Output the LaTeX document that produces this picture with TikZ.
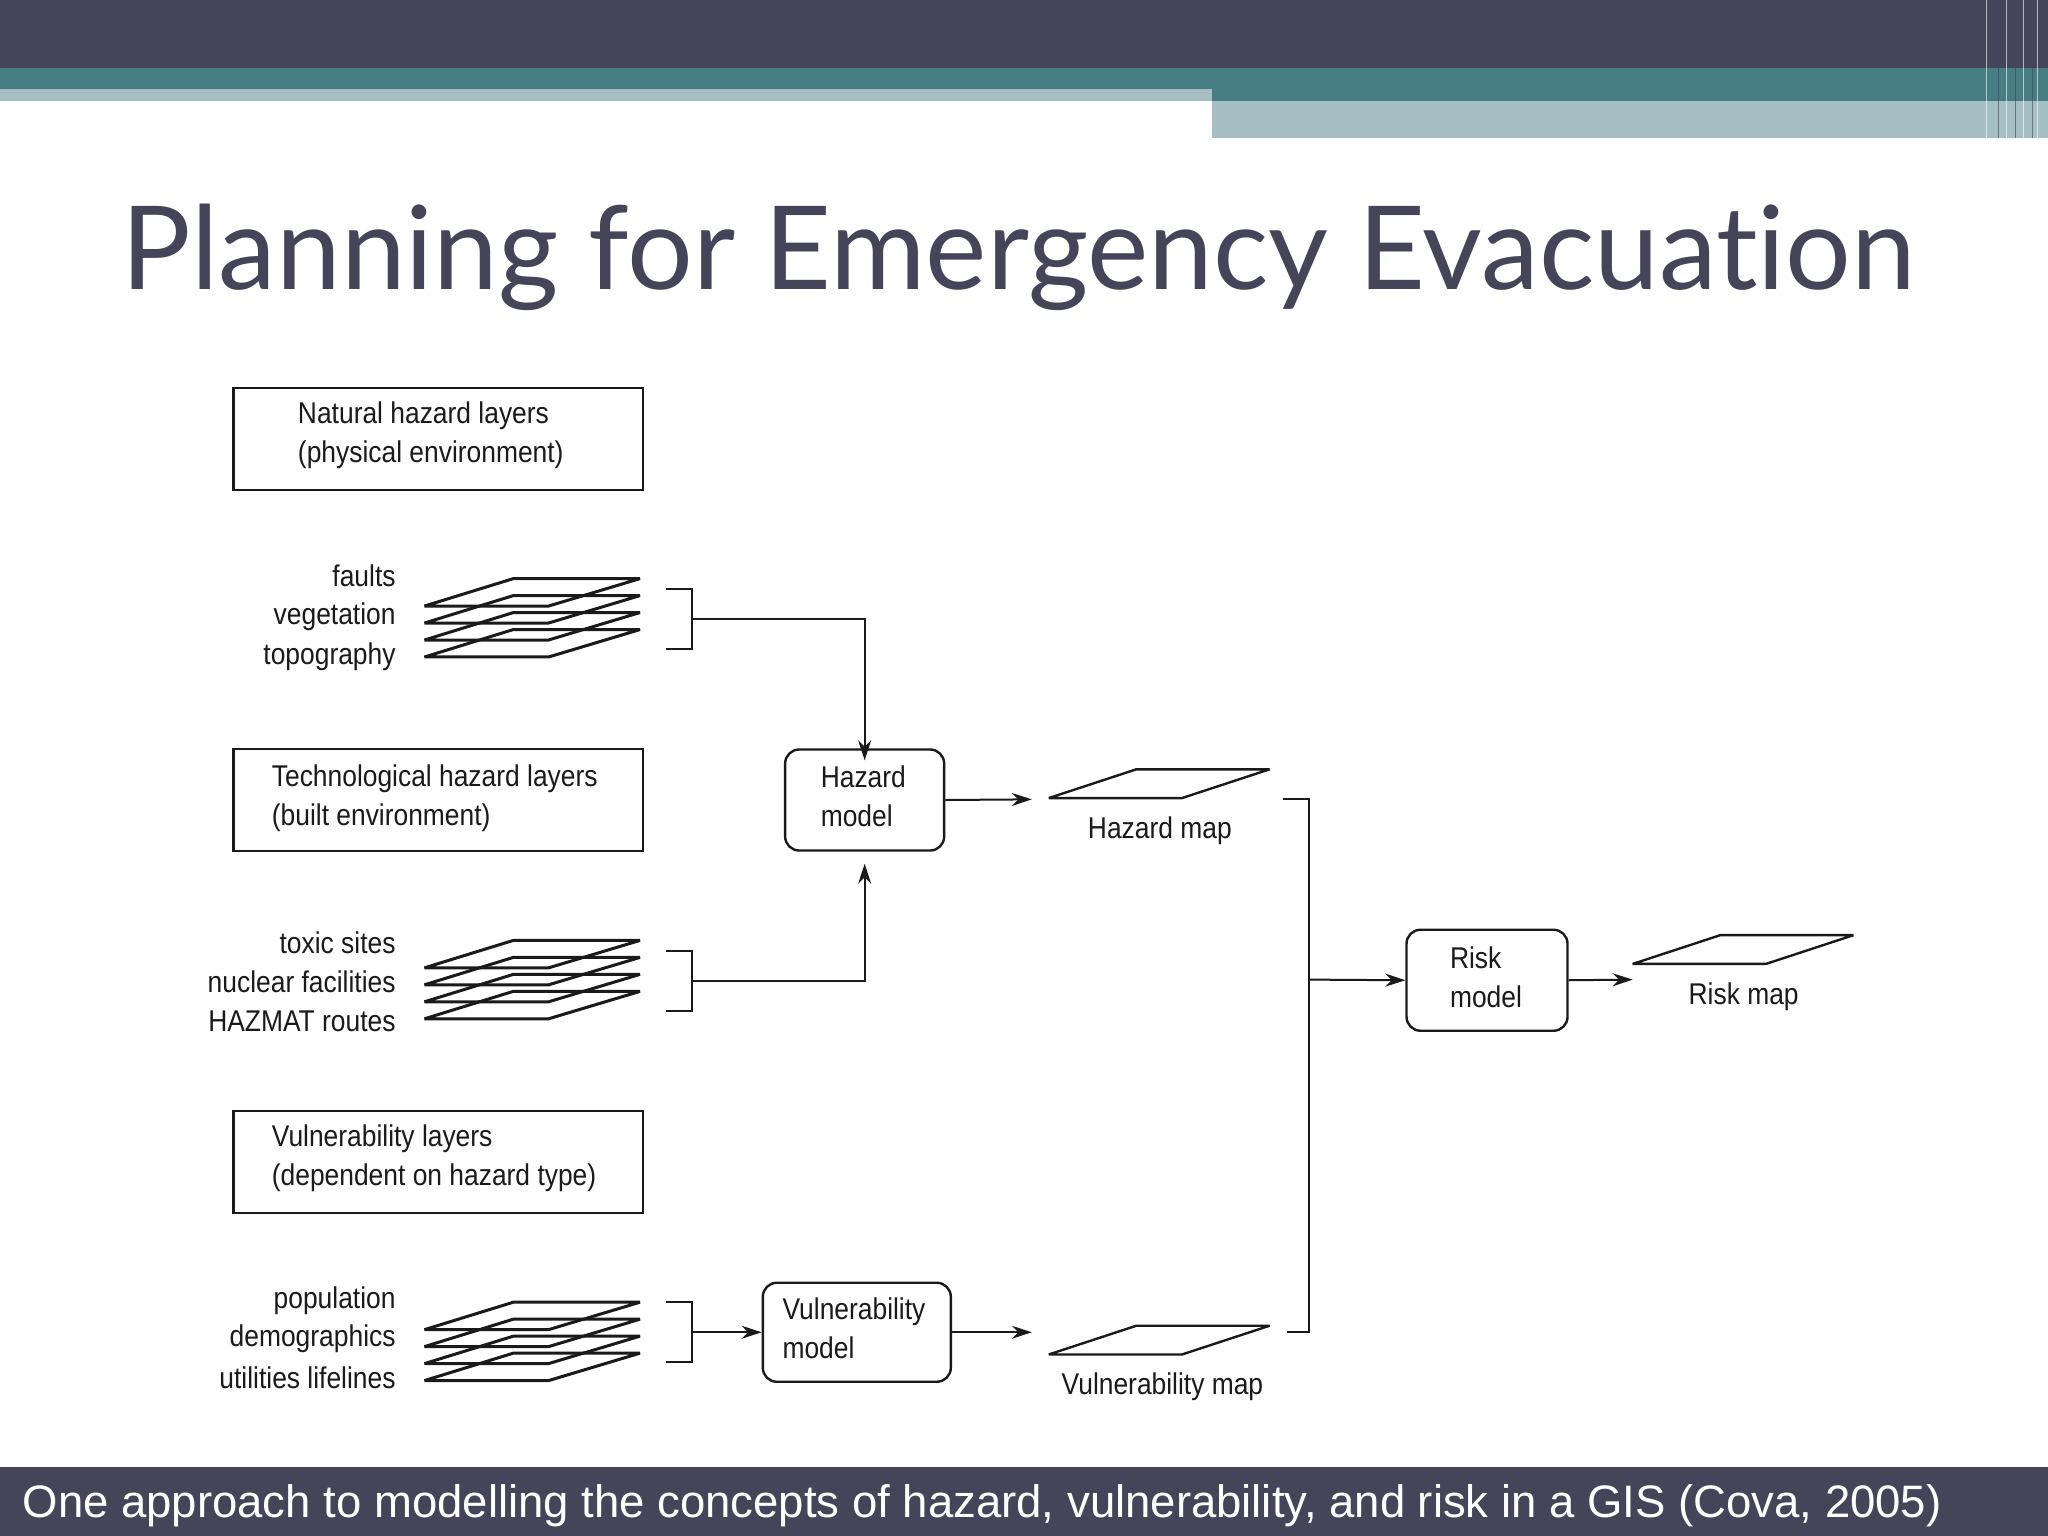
\documentclass[tikz,border=0pt]{standalone}
\usepackage{fontspec}
\setmainfont{Liberation Sans}
\newfontfamily\titlefont[Ligatures={NoCommon,NoRare}]{Lato}
\newfontfamily\dfont[FakeStretch=0.88]{Liberation Sans}
\usetikzlibrary{arrows.meta}
\definecolor{barDark}{HTML}{454458}
\definecolor{barTeal}{HTML}{467E84}
\definecolor{barLight}{HTML}{A6BFC4}
\definecolor{inkc}{HTML}{1A1A1A}
\tikzset{
  bx/.style={draw=inkc,line width=2.4pt,minimum width=409pt,minimum height=102pt,inner sep=0pt},
  model/.style={draw=inkc,line width=2.4pt,rounded corners=14pt,inner sep=0pt},
  dtxt/.style={font=\dfont\fontsize{30}{39}\selectfont,text=inkc,inner sep=0pt},
  conn/.style={draw=inkc,line width=2pt},
  arr/.style={conn,-{Stealth[length=20pt,width=13pt]}},
  lay/.style={draw=inkc,line width=3pt,line join=bevel},
}
\newcommand\stk[2]{%
  \foreach \k in {0,1,2,3}{%
    \draw[lay] (#1+2,#2+\k*13+21) -- (#1+97,#2+\k*13+21) -- (#1+167,#2+\k*13) -- (#1+70,#2+\k*13) -- cycle;}}
\newcommand\pmap[2]{%
  \draw[lay,line width=2.4pt] (#1,#2+22) -- (#1+102,#2+22) -- (#1+169,#2) -- (#1+67,#2) -- cycle;}
\begin{document}
\begin{tikzpicture}[x=1.306pt,y=-1.306pt]
\useasboundingbox (0,0) rectangle (1568,1176);
\fill[white] (0,0) rectangle (1568,1176);
% top bars
\fill[barDark] (0,0) rectangle (1568,52);
\fill[barTeal] (0,52) rectangle (1568,68);
\fill[barTeal] (928,68) rectangle (1568,77);
\fill[barLight] (0,68) rectangle (928,77);
\fill[barLight] (928,77) rectangle (1568,106);
\foreach \xx/\cc in {1521/white,1530/barDark,1536/white,1543/barDark,1549/white,1556/barDark,1560/white}
  \draw[\cc,line width=1.2pt,opacity=0.6] (\xx,0) -- (\xx,106);
% title
\node[font=\titlefont\fontsize{116}{128}\selectfont,text=barDark] (title) at (780,197) {Planning for Emergency Evacuation};
% bottom band
\fill[barDark] (0,1123) rectangle (1568,1176);
\node[font=\fontsize{45.5}{50}\selectfont,text=white] (cap) at (752,1153) {One approach to modelling the concepts of hazard, vulnerability, and risk in a GIS (Cova, 2005)};
% boxes
\node[bx] (b1) at (335.5,336) {};
\node[dtxt,anchor=west,align=left] (b1t) at (228,333) {Natural hazard layers\\(physical environment)};
\node[bx] (b2) at (335.5,612.5) {};
\node[dtxt,anchor=west,align=left] (b2t) at (208,611) {Technological hazard layers\\(built environment)};
\node[bx] (b3) at (335.5,889.5) {};
\node[dtxt,anchor=west,align=left] (b3t) at (208,887) {Vulnerability layers\\(dependent on hazard type)};
% stack labels
\node[dtxt,anchor=east] (l1) at (303,441) {faults};
\node[dtxt,anchor=east] (l2) at (303,472) {vegetation};
\node[dtxt,anchor=east] (l3) at (303,503) {topography};
\node[dtxt,anchor=east] (l4) at (303,722) {toxic sites};
\node[dtxt,anchor=east] (l5) at (303,752) {nuclear facilities};
\node[dtxt,anchor=east] (l6) at (303,782) {HAZMAT routes};
\node[dtxt,anchor=east] (l7) at (303,996) {population};
\node[dtxt,anchor=east] (l8) at (303,1025) {demographics};
\node[dtxt,anchor=east] (l9) at (303,1055) {utilities lifelines};
% stacks
\stk{323}{443}
\stk{323}{720}
\stk{323}{997}
% models
\node[model,minimum width=159pt,minimum height=101pt] (hm) at (662,612.5) {};
\node[dtxt,align=left] (hmt) at (661,610) {Hazard\\model};
\node[model,minimum width=188pt,minimum height=99pt] (vm) at (656,1020) {};
\node[dtxt,align=left,anchor=west] (vmt) at (599,1017) {Vulnerability\\model};
\node[model,minimum width=161pt,minimum height=101pt] (rm) at (1138.5,750.5) {};
\node[dtxt,align=left,anchor=west] (rmt) at (1110,748) {Risk\\model};
% maps
\pmap{803}{589}
\pmap{803}{1015}
\pmap{1250}{716}
\node[dtxt] (hmap) at (888,636) {Hazard map};
\node[dtxt] (vmap) at (890,1062) {Vulnerability map};
\node[dtxt] (rmap) at (1335,763) {Risk map};
% brackets and connectors
\coordinate (s1a) at (510,451); \coordinate (s1b) at (530,474); \coordinate (s1c) at (510,497);
\coordinate (s2a) at (510,728); \coordinate (s2b) at (530,751); \coordinate (s2c) at (510,774);
\coordinate (s3a) at (510,997); \coordinate (s3b) at (530,1020); \coordinate (s3c) at (510,1043);
\draw[conn] (s1a) -| (s1b) |- (s1c);
\draw[conn] (s2a) -| (s2b) |- (s2c);
\draw[conn] (s3a) -| (s3b) |- (s3c);
\draw[arr] (s1b) -| ([yshift=-12pt]hm.north);
\draw[arr] (s2b) -| ([yshift=-12pt]hm.south);
\draw[arr] (s3b) -- (vm.west);
\coordinate (hmo) at (790,612);
\coordinate (vmo) at (790,1020);
\draw[arr] (hm.east) -- (hmo);
\draw[arr] (vm.east) -- (vmo);
\coordinate (ra) at (982,612); \coordinate (rb) at (1002,612); \coordinate (rc) at (1002,1020); \coordinate (rd) at (985,1020);
\coordinate (rj) at (1002,750);
\draw[conn] (ra) -- (rb) -- (rc) -- (rd);
\draw[arr] (rj) -- (rm.west);
\coordinate (rmo) at (1250,750);
\draw[arr] (rm.east) -- (rmo);
\end{tikzpicture}
\end{document}
